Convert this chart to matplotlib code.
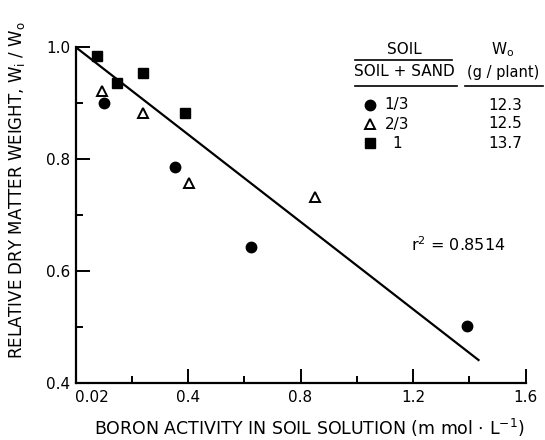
import matplotlib
matplotlib.use("Agg")
import matplotlib.pyplot as plt
from matplotlib.lines import Line2D

# === Data ===
circle_x = [0.103, 0.353, 0.625, 1.392]
circle_y = [0.900, 0.786, 0.642, 0.502]

triangle_x = [0.093, 0.241, 0.404, 0.852]
triangle_y = [0.921, 0.882, 0.757, 0.733]

square_x = [0.075, 0.147, 0.241, 0.390]
square_y = [0.984, 0.935, 0.953, 0.882]

fit_x = [0.0, 1.433]
fit_y = [1.0, 0.441]

x_ticks = [0.0, 0.4, 0.8, 1.2, 1.6]
x_ticklabels = ["0.02", "0.4", "0.8", "1.2", "1.6"]
y_ticks = [0.4, 0.6, 0.8, 1.0]
y_ticklabels = ["0.4", "0.6", "0.8", "1.0"]

legend_labels = ["1/3", "2/3", "1"]
legend_w0 = ["12.3", "12.5", "13.7"]
r2_text = "r$^2$ = 0.8514"

W, H = 545, 440
fig = plt.figure(figsize=(W / 100, H / 100), dpi=100)
ax = fig.add_axes([75.5 / W, 1 - 383 / H, 450 / W, 336 / H])

ms = 7.5
ax.plot(fit_x, fit_y, color="black", lw=1.6)
ax.plot(circle_x, circle_y, "o", color="black", ms=ms)
ax.plot(triangle_x, triangle_y, "^", mfc="white", mec="black", mew=1.4, ms=ms)
ax.plot(square_x, square_y, "s", color="black", ms=ms)

ax.set_xlim(0, 1.6)
ax.set_ylim(0.4, 1.0)
ax.set_xticks(x_ticks)
ax.set_xticklabels(x_ticklabels)
ax.set_yticks(y_ticks)
ax.set_yticklabels(y_ticklabels)
ax.set_xticks([0.2, 0.6, 1.0, 1.4], minor=True)
ax.set_yticks([0.5, 0.7, 0.9], minor=True)
ax.tick_params(which="both", direction="in", width=1.4, labelsize=11)
ax.tick_params(which="major", length=10, pad=4)
ax.tick_params(axis="x", which="major", pad=5)
ax.tick_params(which="minor", length=5)
ax.get_xticklabels()[0].set_ha("left")
for s in ["top", "right"]:
    ax.spines[s].set_visible(False)
for s in ["left", "bottom"]:
    ax.spines[s].set_linewidth(1.6)

ax.set_xlabel("BORON ACTIVITY IN SOIL SOLUTION (m mol $\\cdot$ L$^{-1}$)", fontsize=12.5)
ax.xaxis.set_label_coords(0.52, -0.1)
ax.set_ylabel("RELATIVE DRY MATTER WEIGHT, W$_\\mathrm{i}$ / W$_\\mathrm{o}$", fontsize=12)
ax.yaxis.set_label_coords(-0.108, 0.574)

ax.text(458 / W, 1 - 245 / H, r2_text, transform=fig.transFigure,
        ha="center", va="center", fontsize=11.5)

# --- legend table in figure pixels ---
def fx(px):
    return px / W

def fy(py):
    return 1 - py / H

tf = fig.transFigure
fig.text(fx(404), fy(50), "SOIL", ha="center", va="center", fontsize=11)
fig.text(fx(404), fy(72), "SOIL + SAND", ha="center", va="center", fontsize=11)
fig.text(fx(503), fy(50), "W$_\\mathrm{o}$", ha="center", va="center", fontsize=11)
fig.text(fx(503), fy(72), "(g / plant)", ha="center", va="center", fontsize=10.5)
fig.add_artist(Line2D([fx(355), fx(452)], [fy(60), fy(60)], color="black", lw=1.2, transform=tf))
fig.add_artist(Line2D([fx(355), fx(457)], [fy(86), fy(86)], color="black", lw=1.2, transform=tf))
fig.add_artist(Line2D([fx(465), fx(543)], [fy(86), fy(86)], color="black", lw=1.2, transform=tf))

row_y = [105, 124, 143]
styles = [dict(marker="o", mfc="black", mec="black"),
          dict(marker="^", mfc="white", mec="black", mew=1.4),
          dict(marker="s", mfc="black", mec="black")]
for py, lab, w0, st in zip(row_y, legend_labels, legend_w0, styles):
    fig.add_artist(Line2D([fx(370)], [fy(py)], ls="none", ms=ms, transform=tf, **st))
    fig.text(fx(397), fy(py), lab, ha="center", va="center", fontsize=11)
    fig.text(fx(505), fy(py), w0, ha="center", va="center", fontsize=11)

fig.savefig("out.png", dpi=100)
